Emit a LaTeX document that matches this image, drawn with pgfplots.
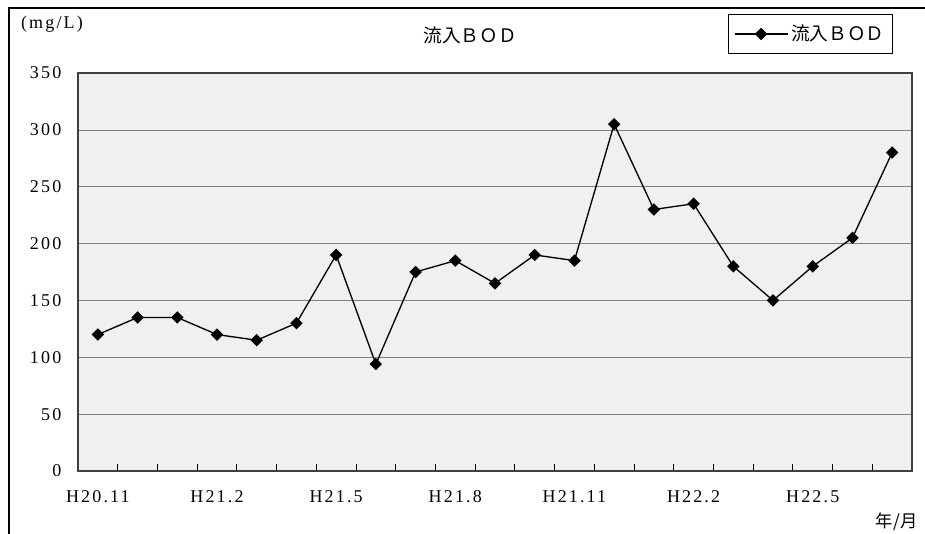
\documentclass[border=0pt]{standalone}
\usepackage{fontspec}
\setmainfont{Liberation Serif}
\newfontfamily\jp{Noto Sans CJK JP}
\newfontfamily\tickfont[LetterSpace=12]{Liberation Serif}
\usepackage{pgfplots}
\pgfplotsset{compat=1.18}
\definecolor{plotbg}{HTML}{F0F0F0}
\pgfplotstableread{
x y
0 120
1 135
2 135
3 120
4 115
5 130
6 190
7 94
8 175
9 185
10 165
11 190
12 185
13 305
14 230
15 235
16 180
17 150
18 180
19 205
20 280
}\bod
\begin{document}
\begin{tikzpicture}
\clip (0,0) rectangle (693.75pt,-400.5pt);
\draw[black, line width=0.9pt] (6.75pt,-1000pt) -- (6.75pt,-6pt) -- (1000pt,-6pt);
\begin{axis}[
  at={(58.5pt,-353.25pt)}, anchor=south west,
  width=625.5pt, height=298.5pt, scale only axis,
  xmin=-0.5, xmax=20.5, ymin=0, ymax=350,
  axis background/.style={fill=plotbg},
  axis line style={draw=black!75, line width=0.8pt},
  xtick={0,3,6,9,12,15,18},
  xticklabels={H20.11,H21.2,H21.5,H21.8,H21.11,H22.2,H22.5},
  minor xtick={0.5,1.5,...,19.5},
  major x tick style={draw=none},
  minor x tick style={black, line width=0.6pt},
  minor tick length=5pt,
  xtick pos=bottom, ytick pos=left,
  ytick={0,50,...,350},
  major y tick style={draw=none},
  ymajorgrids, grid style={black!50, line width=0.5pt},
  /pgf/number format/assume math mode=true,
  tick label style={font=\fontsize{13.5}{15}\tickfont},
  xticklabel style={yshift=-11pt},
  yticklabel style={xshift=-9pt},
  legend style={at={(rel axis cs:0.977,1.148)}, anchor=north east, draw=black, fill=white,
    font=\fontsize{14}{16}\jp, inner xsep=4pt, inner ysep=6pt, line width=0.6pt},
  legend image code/.code={\draw[mark repeat=2,mark phase=2] plot coordinates {(0cm,0cm) (0.7cm,0cm) (1.4cm,0cm)};},
]
\addplot[black, line width=1pt, mark=square*, mark size=2.8pt, mark options={fill=black, rotate=45}] table[x=x,y=y]{\bod};
\addlegendentry{流入ＢＯＤ}
\end{axis}
\node[font=\fontsize{14}{16}\jp] at (352.5pt,-26.25pt) {流入ＢＯＤ};
\node[font=\fontsize{13.5}{15}\tickfont] at (39pt,-18pt) {(mg/L)};
\node[font=\fontsize{13}{15}\jp] at (672.5pt,-391.5pt) {年/月};
\end{tikzpicture}
\end{document}
